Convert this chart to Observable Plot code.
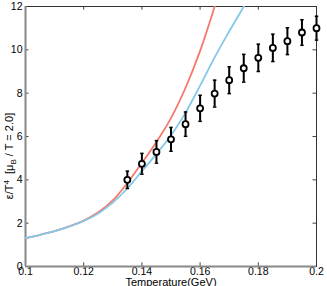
<!DOCTYPE html>
<html>
<head>
<meta charset="utf-8">
<script src="https://cdn.jsdelivr.net/npm/d3@7"></script>
<script src="https://cdn.jsdelivr.net/npm/@observablehq/plot@0.6"></script>
<style>
  html, body { margin: 0; padding: 0; background: #fff; }
  #chart svg { display: block; }
</style>
</head>
<body>
<div id="chart"></div>
<script>
// Model curves
const tRed  = [0.100,0.105,0.110,0.115,0.120,0.125,0.130,0.135,0.140,0.145,0.150,0.155,0.160,0.165,0.170];
const epsRed = [1.31,1.46,1.63,1.85,2.12,2.50,3.05,3.85,4.78,5.75,6.85,8.25,9.95,12.0,14.3];
const tBlue = [0.100,0.105,0.110,0.115,0.120,0.125,0.130,0.135,0.140,0.145,0.150,0.155,0.160,0.165,0.170,0.175,0.180];
const epsBlue = [1.31,1.46,1.63,1.84,2.10,2.45,2.95,3.60,4.40,5.20,6.05,7.10,8.35,9.65,10.85,12.0,13.2];
// Lattice points with error bars
const tData = [0.135,0.140,0.145,0.150,0.155,0.160,0.165,0.170,0.175,0.180,0.185,0.190,0.195,0.200];
const epsData = [4.00,4.74,5.29,5.87,6.57,7.30,7.98,8.60,9.15,9.63,10.09,10.40,10.80,11.00];
const errData = [0.40,0.48,0.52,0.55,0.56,0.60,0.62,0.62,0.64,0.63,0.63,0.62,0.59,0.55];
// Ticks
const xTicks = [0.1,0.12,0.14,0.16,0.18,0.2];
const xTickLabels = ["0.1","0.12","0.14","0.16","0.18","0.2"];
const yTicks = [0,2,4,6,8,10,12];
const yTickLabels = ["0","2","4","6","8","10","12"];

const red = tRed.map((t,i) => ({t, e: epsRed[i]}));
const blue = tBlue.map((t,i) => ({t, e: epsBlue[i]}));
const pts = tData.map((t,i) => ({t, e: epsData[i], lo: epsData[i]-errData[i], hi: epsData[i]+errData[i]}));
const cap = 0.0006;

const font = "'Liberation Sans', Arial, Helvetica, sans-serif";

const plot = Plot.plot({
  width: 327,
  height: 286,
  marginLeft: 25,
  marginRight: 11,
  marginTop: 6,
  marginBottom: 20,
  style: {fontFamily: font, fontSize: "10.5px", color: "#000", background: "#fff"},
  x: {domain: [0.1, 0.2]},
  y: {domain: [0, 12]},
  marks: [
    // tick labels
    Plot.axisX({ticks: xTicks, tickFormat: (d,i) => xTickLabels[i], tickSize: 0, tickPadding: 1, label: null, fill: "#000"}),
    Plot.axisY({ticks: yTicks, tickFormat: (d,i) => yTickLabels[i], tickSize: 0, tickPadding: 3, label: null, fill: "#000"}),
    // inward ticks on all four sides
    Plot.ruleX(xTicks, {x: d => d, y1: 0, y2: 0.17, stroke: "#444", strokeWidth: 1}),
    Plot.ruleX(xTicks, {x: d => d, y1: 12, y2: 11.83, stroke: "#444", strokeWidth: 1}),
    Plot.ruleY(yTicks, {y: d => d, x1: 0.1, x2: 0.1012, stroke: "#444", strokeWidth: 1}),
    Plot.ruleY(yTicks, {y: d => d, x1: 0.2, x2: 0.1988, stroke: "#444", strokeWidth: 1}),
    Plot.frame({stroke: "#333", strokeWidth: 1}),
    Plot.ruleX([0.1], {stroke: "#888", strokeWidth: 2}),
    Plot.ruleY([0], {stroke: "#888", strokeWidth: 2}),
    // curves
    Plot.line(red, {x: "t", y: "e", stroke: "#f8776b", strokeWidth: 1.8, curve: "catmull-rom", clip: true}),
    Plot.line(blue, {x: "t", y: "e", stroke: "#82c8e8", strokeWidth: 1.8, curve: "catmull-rom", clip: true}),
    // error bars
    Plot.ruleX(pts, {x: "t", y1: "lo", y2: "hi", stroke: "#000", strokeWidth: 2}),
    Plot.link(pts, {x1: d => d.t - cap, x2: d => d.t + cap, y1: "lo", y2: "lo", stroke: "#000", strokeWidth: 1.5}),
    Plot.link(pts, {x1: d => d.t - cap, x2: d => d.t + cap, y1: "hi", y2: "hi", stroke: "#000", strokeWidth: 1.5}),
    Plot.dot(pts, {x: "t", y: "e", r: 3, fill: "#fff", stroke: "#000", strokeWidth: 1.8})
  ]
});

const svg = d3.select(plot);
// x axis label
svg.append("text")
  .attr("x", 171).attr("y", 286)
  .attr("text-anchor", "middle")
  .style("font-family", font).style("font-size", "11px").attr("fill", "#000")
  .text("Temperature(GeV)");
// y axis label with super/subscripts
const yl = svg.append("text")
  .attr("transform", "translate(13,156) rotate(-90)")
  .attr("text-anchor", "middle")
  .style("font-family", font).style("font-size", "11px").attr("fill", "#000");
yl.append("tspan").text("ε/T");
yl.append("tspan").attr("dy", -4).style("font-size", "8px").text("4");
yl.append("tspan").attr("dy", 4).text("  [μ");
yl.append("tspan").attr("dy", 3).style("font-size", "8px").text("B");
yl.append("tspan").attr("dy", -3).text(" / T = 2.0]");

document.getElementById("chart").appendChild(plot);
</script>
</body>
</html>
